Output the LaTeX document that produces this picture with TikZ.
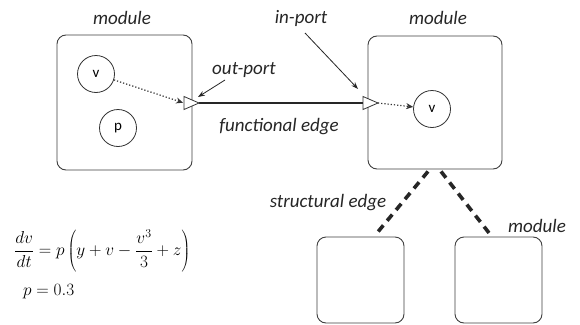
\documentclass[tikz,border=0pt]{standalone}
\usepackage[no-math]{fontspec}
\setmainfont{Carlito}
\usetikzlibrary{arrows.meta,calc}
\begin{document}
\begin{tikzpicture}[x=1pt,y=-1pt,
  lbl/.style={font=\fontsize{19}{22}\selectfont\itshape, inner sep=0pt, text=black!85},
  modbox/.style={draw=black!75, line width=0.9pt, rounded corners=9pt, inner sep=0pt},
  var/.style={circle, draw=black!80, line width=0.8pt, minimum size=37pt, inner sep=0pt, font=\fontsize{15}{18}\selectfont},
  portsty/.style={draw=black!80, line width=0.8pt, fill=white, line join=miter},
  dotarrow/.style={black!80, line width=1.2pt, dotted, -{Stealth[length=7pt,width=6pt]}},
  thinarrow/.style={black!85, line width=0.8pt, -{Stealth[length=7pt,width=5pt]}},
  funcedge/.style={black!85, line width=2.4pt},
  structedge/.style={black!85, line width=3.6pt, dash pattern=on 8pt off 6pt},
  eqsty/.style={anchor=west, inner sep=0pt, font=\fontsize{18}{22}\selectfont}]
\useasboundingbox[fill=white] (0,0) rectangle (580,324);

% modules
\node[modbox, minimum width=135pt, minimum height=135pt] (m1) at (124.5,102.5) {};
\node[modbox, minimum width=134pt, minimum height=133pt] (m2) at (435,102.5) {};
\node[modbox, minimum width=87pt, minimum height=86pt] (b1) at (360.5,280) {};
\node[modbox, minimum width=87pt, minimum height=86pt] (b2) at (498.5,280) {};

% variables
\node[var] (v1) at (96,74) {v};
\node[var] (p1) at (118,128) {p};
\node[var] (v2) at (432,109) {v};

% ports
\coordinate (op) at (199,103);
\coordinate (opb) at (184,103);
\coordinate (ip) at (363,103);
\coordinate (ipt) at (378,103);
\draw[funcedge] (op) -- (ip);
\draw[portsty] (op) -- ++(-15,-6.5) -- ++(0,13) -- cycle;
\draw[portsty] (ipt) -- ++(-15,-6.5) -- ++(0,13) -- cycle;

% dotted arrows
\draw[dotarrow, shorten >=1pt] (v1) -- (opb);
\draw[dotarrow] (ipt) -- (v2);

% labels
\node[lbl] (l1) at (122,18) {module};
\node[lbl] (l2) at (301,18) {in-port};
\node[lbl] (l3) at (438,18) {module};
\node[lbl] (lo) at (244,70) {out-port};
\node[lbl] (lf) at (279,127) {functional edge};
\node[lbl] (ls) at (328,203) {structural edge};
\node[lbl] (l4) at (537,226) {module};

\coordinate (oa) at (225,80);
\coordinate (ot) at (198,97);
\coordinate (ia) at (305,33);
\coordinate (it) at (358,89);
\draw[thinarrow] (oa) -- (ot);
\draw[thinarrow] (ia) -- (it);

% structural edges
\draw[structedge] ($(m2.south)+(-7,2)$) -- ($(b1.north)+(16,-3)$);
\draw[structedge] ($(m2.south)+(6,2)$) -- ($(b2.north)+(-9,-3)$);

% equations
\node[eqsty] (eq) at (14,251)
  {$\displaystyle \frac{dv}{dt}=p\left(y+v-\frac{v^3}{3}+z\right)$};
\node[eqsty] (pe) at (23,292) {$p=0.3$};
\end{tikzpicture}
\end{document}
